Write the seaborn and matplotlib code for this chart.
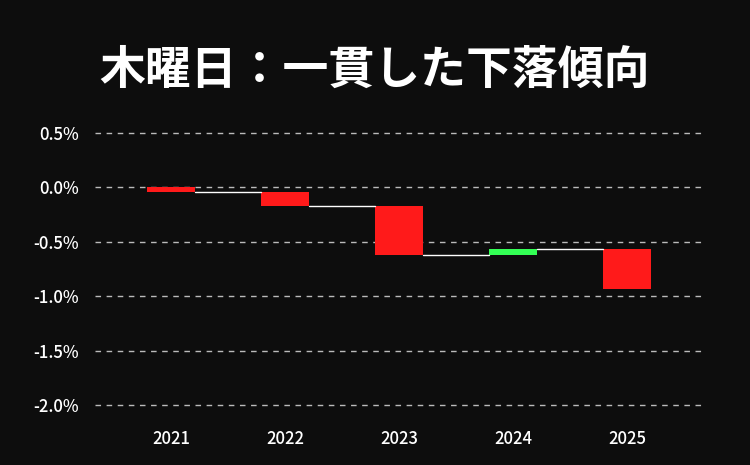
import numpy as np
import matplotlib
matplotlib.use("Agg")
import matplotlib.pyplot as plt
import seaborn as sns

# yearly change (%) for Thursdays
years = ["2021", "2022", "2023", "2024", "2025"]
changes = [-0.04, -0.13, -0.45, 0.05, -0.36]
y_ticks = [0.5, 0.0, -0.5, -1.0, -1.5, -2.0]

ends = np.cumsum(changes)
starts = ends - np.array(changes)

sns.set_style("dark")
plt.rcParams['font.family'] = ['Noto Sans CJK JP', 'DejaVu Sans']

bg = "#0d0d0d"
fig = plt.figure(figsize=(7.5, 4.65), dpi=100, facecolor=bg)
ax = fig.add_axes([0.127, 0.105, 0.813, 0.633], facecolor=bg)

sns.barplot(x=years, y=changes, bottom=starts, color="#ff1a1a", width=0.42, ax=ax,
            linewidth=0)
for p, c in zip(ax.patches, changes):
    p.set_facecolor("#33ff55" if c > 0 else "#ff1a1a")

# connector lines between bars
w = 0.42
for i in range(len(years) - 1):
    ax.plot([i + w / 2, i + 1 - w / 2], [ends[i], ends[i]], color="white", lw=1, zorder=1)

ax.set_ylim(-2.1, 0.6)
ax.set_xlim(-0.667, 4.684)
ax.set_yticks(y_ticks)
ax.set_yticklabels([f"{v:.1f}%" for v in y_ticks], color="white", fontsize=12,
                   fontweight="medium")
for t in ax.get_xticklabels():
    t.set_fontweight("medium")
ax.tick_params(axis="x", colors="white", labelsize=12, length=0, pad=10)
ax.tick_params(axis="y", length=0, pad=12)
ax.grid(axis="y", color="#bbbbbb", linestyle=(0, (4, 4)), lw=1)
ax.grid(axis="x", visible=False)
ax.set_axisbelow(True)
for s in ax.spines.values():
    s.set_visible(False)
ax.set_xlabel("")
ax.set_ylabel("")

fig.text(0.5, 0.848, "木曜日：一貫した下落傾向", color="white", fontsize=33,
         fontweight="bold", ha="center", va="center")

fig.savefig("out.png", dpi=100, facecolor=bg)
